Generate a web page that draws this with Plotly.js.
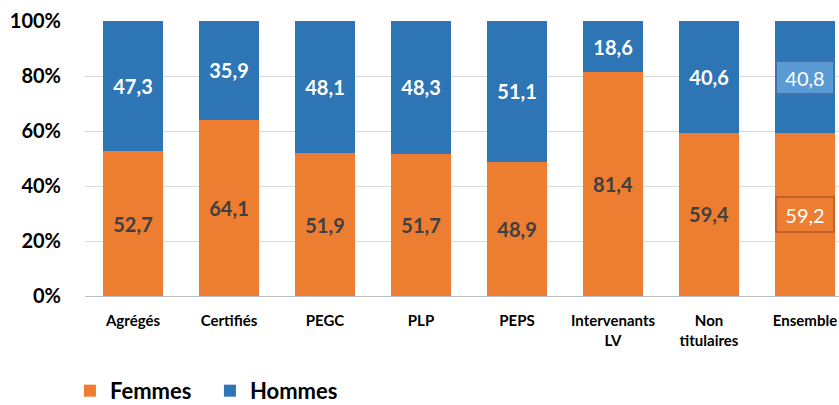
<!DOCTYPE html>
<html><head><meta charset="utf-8">
<script src="https://cdn.plot.ly/plotly-3.0.1.min.js"></script>
<style>body{margin:0;padding:0;background:#fff}#chart{width:839px;height:405px}</style>
</head><body><div id="chart"></div>
<script>
var categories = ["Agrégés","Certifiés","PEGC","PLP","PEPS","Intervenants<br>LV","Non<br>titulaires","Ensemble"];
var femmes = [52.7, 64.1, 51.9, 51.7, 48.9, 81.4, 59.4, 59.2];
var hommes = [47.3, 35.9, 48.1, 48.3, 51.1, 18.6, 40.6, 40.8];
var yTicks = [0, 20, 40, 60, 80, 100];
var yTickLabels = ["0%","20%","40%","60%","80%","100%"];

function fmt(v){ return v.toFixed(1).replace('.', ','); }
var last = categories.length - 1;
var femText = femmes.map(function(v,i){ return i===last ? "" : fmt(v); });
var homText = hommes.map(function(v,i){ return i===last ? "" : fmt(v); });

var FONT = "Lato, 'Open Sans', sans-serif";
var traces = [
  {type:"bar", name:"Femmes", x:categories, y:femmes, marker:{color:"#ED7D31"},
   text:femText, textposition:"inside", insidetextanchor:"middle", textangle:0,
   textfont:{family:FONT, size:20, color:"#404040", weight:"bold"}, hoverinfo:"skip"},
  {type:"bar", name:"Hommes", x:categories, y:hommes, marker:{color:"#2E75B6"},
   text:homText, textposition:"inside", insidetextanchor:"middle", textangle:0,
   textfont:{family:FONT, size:20, color:"#FFFFFF", weight:"bold"}, hoverinfo:"skip"}
];

var annotations = [
  {x:categories[last], y:femmes[last]/2, xref:"x", yref:"y", text:fmt(femmes[last]), showarrow:false,
   width:54, height:31, borderpad:1,
   font:{family:FONT, size:20, color:"#FFFFFF"}, bgcolor:"#ED7D31", bordercolor:"#C0622A", borderwidth:2},
  {x:categories[last], y:femmes[last]+hommes[last]/2, xref:"x", yref:"y", text:fmt(hommes[last]), showarrow:false,
   width:54, height:29, borderpad:1,
   font:{family:FONT, size:20, color:"#FFFFFF"}, bgcolor:"#5B9BD5", bordercolor:"#3D73AA", borderwidth:2}
];

var layout = {
  width:839, height:405,
  margin:{l:85, r:0, t:21, b:109, autoexpand:false},
  barmode:"stack", bargap:0.375,
  paper_bgcolor:"#fff", plot_bgcolor:"#fff",
  showlegend:true,
  legend:{orientation:"h", x:-0.02, y:-0.345, xanchor:"left", yanchor:"middle",
          font:{family:FONT, size:22, color:"#000", weight:"bold"}, traceorder:"normal",
          itemwidth:30, entrywidth:95},
  xaxis:{type:"category", range:[-0.5, 7.354], automargin:false, ticklabelstandoff:14,
         tickfont:{family:FONT, size:15, color:"#000", weight:"bold"},
         showgrid:false, showline:false, ticks:""},
  yaxis:{range:[0,100], tickvals:yTicks, ticktext:yTickLabels, ticklabelstandoff:23, automargin:false,
         tickfont:{family:FONT, size:20, color:"#000", weight:"bold"},
         showgrid:true, gridcolor:"#D9D9D9", gridwidth:1, zeroline:true, zerolinecolor:"#BFBFBF", zerolinewidth:1,
         showline:false, ticks:""},
  annotations:annotations
};
Plotly.newPlot("chart", traces, layout, {displayModeBar:false, staticPlot:true});
</script></body></html>
